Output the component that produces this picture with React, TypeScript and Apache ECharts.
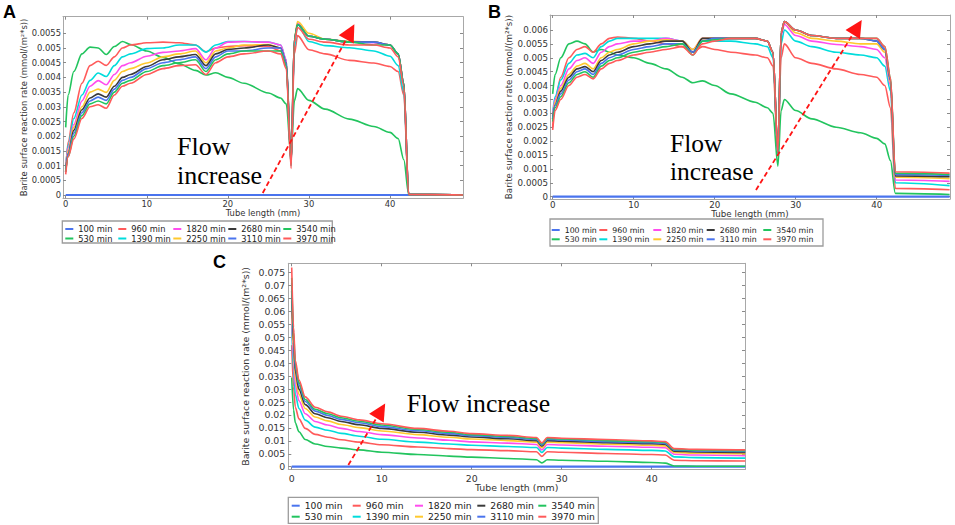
import React, { useEffect, useRef } from "react";
import * as echarts from "echarts";

// ---------- series names / colours ----------
const seriesNames = ["100 min", "530 min", "960 min", "1390 min", "1820 min", "2250 min", "2680 min", "3110 min", "3540 min", "3970 min"];
const seriesColors = ["#4a74ee", "#22c45e", "#ff5a5a", "#00dcdc", "#ff4dee", "#ffc92e", "#3a3a3a", "#4a74ee", "#22c45e", "#ff5a5a"];
const legendColumns = [
  ["100 min", "530 min"],
  ["960 min", "1390 min"],
  ["1820 min", "2250 min"],
  ["2680 min", "3110 min"],
  ["3540 min", "3970 min"],
];

// ---------- tick labels ----------
const xTickValues = [0, 10, 20, 30, 40];
const yTicksA = [0, 0.0005, 0.001, 0.0015, 0.002, 0.0025, 0.003, 0.0035, 0.004, 0.0045, 0.005, 0.0055];
const yTicksB = [0, 0.0005, 0.001, 0.0015, 0.002, 0.0025, 0.003, 0.0035, 0.004, 0.0045, 0.005, 0.0055, 0.006];
const yTicksC = [0, 0.005, 0.01, 0.015, 0.02, 0.025, 0.03, 0.035, 0.04, 0.045, 0.05, 0.055, 0.06, 0.065, 0.07, 0.075];

// ---------- panel A data (tube length mm / rate) ----------
const xA = [0, 0.3, 1, 2, 3, 4, 5, 6, 7, 8, 10, 12, 14, 16, 17.3, 18.5, 20, 22, 25, 26.5, 27.2, 27.8, 28.2, 28.6, 30, 32, 35, 38, 40, 41, 41.7, 42.3, 49];
const a100 = [0, 0, 0, 0, 0, 0, 0, 0, 0, 0, 0, 0, 0, 0, 0, 0, 0, 0, 0, 0, 0, 0, 0, 0, 0, 0, 0, 0, 0, 0, 0, 0, 0];
const a530 = [0.0023, 0.0034, 0.0042, 0.0048, 0.00503, 0.005, 0.00478, 0.00505, 0.00522, 0.00512, 0.0049, 0.00468, 0.00446, 0.00424, 0.00408, 0.00416, 0.004, 0.0038, 0.00347, 0.0033, 0.0031, 0.0013, 0.0032, 0.00362, 0.00322, 0.00292, 0.00258, 0.00233, 0.00213, 0.00192, 0.0012, 0.00002, 0];
const a960 = [0.0008, 0.0018, 0.0028, 0.0038, 0.0044, 0.00455, 0.00441, 0.0047, 0.005, 0.0051, 0.00518, 0.0052, 0.00518, 0.0051, 0.00487, 0.005, 0.00505, 0.00508, 0.00505, 0.0049, 0.0044, 0.0011, 0.0048, 0.00542, 0.00494, 0.0048, 0.00458, 0.00449, 0.00437, 0.0042, 0.0034, 0.00002, 0];
const a1390 = [0.0009, 0.0017, 0.0026, 0.0034, 0.0039, 0.00415, 0.00403, 0.0044, 0.0047, 0.0048, 0.00498, 0.005, 0.0051, 0.0051, 0.00486, 0.0051, 0.00522, 0.00522, 0.0052, 0.0051, 0.0046, 0.0011, 0.005, 0.0058, 0.00522, 0.00508, 0.00501, 0.0049, 0.00472, 0.0044, 0.0035, 0.00002, 0];
const a1820 = [0.0009, 0.0016, 0.0024, 0.0032, 0.0037, 0.00389, 0.00375, 0.0041, 0.0044, 0.0045, 0.00472, 0.00485, 0.0049, 0.00498, 0.0046, 0.005, 0.0052, 0.00522, 0.0052, 0.0051, 0.0046, 0.0011, 0.0052, 0.00585, 0.0054, 0.0053, 0.0052, 0.00518, 0.0051, 0.0048, 0.0038, 0.00002, 0];
const a2250 = [0.0008, 0.0015, 0.0023, 0.003, 0.0035, 0.0036, 0.00349, 0.0039, 0.0042, 0.0043, 0.00449, 0.0047, 0.0048, 0.0049, 0.0045, 0.0049, 0.005, 0.0051, 0.00512, 0.005, 0.0045, 0.0011, 0.0053, 0.0059, 0.0055, 0.0053, 0.00523, 0.0052, 0.0051, 0.0048, 0.0038, 0.00002, 0];
const a2680 = [0.0008, 0.0014, 0.0022, 0.0029, 0.0033, 0.00344, 0.00333, 0.0037, 0.004, 0.0041, 0.00437, 0.0046, 0.0047, 0.00478, 0.0044, 0.0048, 0.00495, 0.005, 0.0051, 0.005, 0.0045, 0.0011, 0.0053, 0.0058, 0.0054, 0.0053, 0.0052, 0.0052, 0.0051, 0.0048, 0.0038, 0.00002, 0];
const a3110 = [0.0008, 0.0014, 0.0021, 0.0028, 0.0032, 0.00333, 0.00322, 0.0036, 0.0039, 0.004, 0.0043, 0.0045, 0.0046, 0.0047, 0.0043, 0.0047, 0.0049, 0.0049, 0.005, 0.005, 0.0045, 0.001, 0.0053, 0.0058, 0.0054, 0.0053, 0.0052, 0.0052, 0.0051, 0.0048, 0.0038, 0.00002, 0];
const a3540 = [0.0008, 0.0013, 0.002, 0.0027, 0.0031, 0.0032, 0.0031, 0.0035, 0.0038, 0.0039, 0.0042, 0.0044, 0.0045, 0.0046, 0.0042, 0.0046, 0.0048, 0.0049, 0.0049, 0.0049, 0.0044, 0.001, 0.0053, 0.0058, 0.0054, 0.0053, 0.0052, 0.0051, 0.0051, 0.0048, 0.0038, 0.00002, 0];
const a3970 = [0.0007, 0.0013, 0.0019, 0.0026, 0.003, 0.00307, 0.00295, 0.0034, 0.0037, 0.0038, 0.0041, 0.0043, 0.0044, 0.00443, 0.0041, 0.0045, 0.0047, 0.0048, 0.0049, 0.0048, 0.0043, 0.0009, 0.0052, 0.0057, 0.0053, 0.0052, 0.0051, 0.0051, 0.005, 0.0047, 0.0037, 0.00002, 0];

// ---------- panel B data ----------
const xB = [0, 0.3, 1, 2, 3, 4, 5, 6, 7, 8, 10, 12, 14, 16, 17.3, 18.5, 20, 22, 25, 26.5, 27.2, 27.8, 28.2, 28.6, 30, 32, 35, 38, 40, 41, 41.7, 42.3, 49];
const b100 = [0, 0, 0, 0, 0, 0, 0, 0, 0, 0, 0, 0, 0, 0, 0, 0, 0, 0, 0, 0, 0, 0, 0, 0, 0, 0, 0, 0, 0, 0, 0, 0, 0];
const b530 = [0.0037, 0.0044, 0.005, 0.0055, 0.0056, 0.0055, 0.0052, 0.0053, 0.0052, 0.0051, 0.005, 0.0048, 0.0046, 0.0043, 0.0041, 0.00417, 0.004, 0.0037, 0.0034, 0.0032, 0.003, 0.0011, 0.0031, 0.0035, 0.0031, 0.0028, 0.0025, 0.0023, 0.0021, 0.0019, 0.0013, 0.00012, 0.00008];
const b960 = [0.0025, 0.0035, 0.0043, 0.005, 0.0053, 0.0054, 0.0052, 0.0055, 0.0057, 0.00575, 0.0057, 0.0056, 0.0055, 0.0054, 0.0052, 0.0054, 0.0053, 0.0052, 0.0051, 0.005, 0.0047, 0.0015, 0.005, 0.0055, 0.005, 0.0048, 0.0046, 0.0044, 0.0043, 0.004, 0.0032, 0.0003, 0.00025];
const b1390 = [0.003, 0.0036, 0.0042, 0.0048, 0.0051, 0.00516, 0.005, 0.0054, 0.0056, 0.0057, 0.0057, 0.0057, 0.0057, 0.0056, 0.0053, 0.0056, 0.0056, 0.0056, 0.0055, 0.0054, 0.005, 0.0015, 0.0055, 0.006, 0.0056, 0.0054, 0.0052, 0.0051, 0.005, 0.0047, 0.0038, 0.0005, 0.0004];
const b1820 = [0.0029, 0.0035, 0.004, 0.0046, 0.0049, 0.005, 0.0048, 0.0052, 0.0054, 0.0055, 0.0056, 0.0056, 0.0057, 0.0056, 0.0053, 0.0057, 0.0057, 0.0057, 0.0057, 0.0056, 0.0052, 0.0016, 0.0058, 0.0062, 0.0058, 0.0056, 0.00548, 0.0054, 0.0053, 0.005, 0.004, 0.0006, 0.00055];
const b2250 = [0.0028, 0.0034, 0.0039, 0.0044, 0.0047, 0.0048, 0.0046, 0.005, 0.0052, 0.0053, 0.0055, 0.0056, 0.00565, 0.0056, 0.0053, 0.0057, 0.0057, 0.0057, 0.0057, 0.0056, 0.0052, 0.0016, 0.0059, 0.0063, 0.0059, 0.0057, 0.0056, 0.0055, 0.0055, 0.0052, 0.0041, 0.0007, 0.00065];
const b2680 = [0.0028, 0.0033, 0.0038, 0.0043, 0.0046, 0.00468, 0.0045, 0.0049, 0.0051, 0.0052, 0.0054, 0.0055, 0.0056, 0.0056, 0.0052, 0.0057, 0.0057, 0.0057, 0.0057, 0.0056, 0.0052, 0.0016, 0.0059, 0.0063, 0.006, 0.0058, 0.0057, 0.0057, 0.0056, 0.0053, 0.0042, 0.00075, 0.00072];
const b3110 = [0.0028, 0.0033, 0.0037, 0.0042, 0.0045, 0.0046, 0.0044, 0.0048, 0.005, 0.0051, 0.0053, 0.0054, 0.0055, 0.0055, 0.0052, 0.0056, 0.0057, 0.0057, 0.0057, 0.0056, 0.0052, 0.0016, 0.0059, 0.0063, 0.006, 0.0058, 0.0057, 0.0057, 0.0056, 0.0053, 0.0042, 0.0008, 0.00077];
const b3540 = [0.0027, 0.0032, 0.0036, 0.0041, 0.0044, 0.0045, 0.0043, 0.0047, 0.0049, 0.005, 0.0052, 0.0053, 0.0054, 0.0055, 0.0051, 0.0056, 0.00565, 0.0057, 0.0057, 0.0056, 0.0052, 0.0016, 0.0059, 0.0063, 0.006, 0.0058, 0.0057, 0.0057, 0.0057, 0.0054, 0.0043, 0.00085, 0.0008];
const b3970 = [0.0024, 0.0031, 0.0035, 0.004, 0.0043, 0.0044, 0.00424, 0.0046, 0.0048, 0.0049, 0.0051, 0.0052, 0.0053, 0.0054, 0.0051, 0.0055, 0.0056, 0.0057, 0.0057, 0.0056, 0.0052, 0.0016, 0.0059, 0.0063, 0.006, 0.0058, 0.0057, 0.0057, 0.0057, 0.0054, 0.0043, 0.0009, 0.00085];

// ---------- panel C data ----------
const xC = [0, 0.2, 0.4, 0.8, 1.5, 2.6, 4, 5.5, 7.5, 10, 14, 17.5, 20, 24, 27.2, 27.8, 28.4, 30, 35, 40, 41.5, 42.5, 45, 50.4];
const c100 = [0, 0, 0, 0, 0, 0, 0, 0, 0, 0, 0, 0, 0, 0, 0, 0, 0, 0, 0, 0, 0, 0, 0, 0];
const c530 = [0.0345, 0.022, 0.017, 0.0135, 0.0105, 0.0088, 0.0078, 0.0072, 0.0065, 0.0056, 0.0047, 0.0041, 0.0037, 0.0032, 0.0027, 0.0015, 0.0027, 0.0025, 0.0021, 0.0016, 0.0014, 0.0003, 0.0002, 0.0002];
const c960 = [0.047, 0.031, 0.023, 0.0185, 0.0148, 0.0125, 0.0114, 0.0104, 0.0095, 0.0085, 0.0076, 0.007, 0.0066, 0.0062, 0.0058, 0.004, 0.0058, 0.0056, 0.0051, 0.0047, 0.0045, 0.0025, 0.0023, 0.0022];
const c1390 = [0.055, 0.037, 0.028, 0.0225, 0.018, 0.0153, 0.0141, 0.0129, 0.0118, 0.0106, 0.0095, 0.0088, 0.0083, 0.0078, 0.0074, 0.0055, 0.0074, 0.0072, 0.0067, 0.0063, 0.0061, 0.0038, 0.0035, 0.0033];
const c1820 = [0.06, 0.041, 0.0315, 0.0255, 0.0205, 0.0175, 0.0161, 0.0148, 0.0136, 0.0124, 0.0111, 0.0102, 0.0096, 0.0091, 0.0086, 0.0065, 0.0086, 0.0084, 0.0079, 0.0075, 0.0073, 0.0048, 0.0045, 0.0043];
const c2250 = [0.064, 0.045, 0.0345, 0.028, 0.0225, 0.0192, 0.0177, 0.0163, 0.0151, 0.0138, 0.0124, 0.0114, 0.0107, 0.0101, 0.0095, 0.0073, 0.0095, 0.0093, 0.0087, 0.0083, 0.008, 0.0055, 0.0052, 0.005];
const c2680 = [0.068, 0.048, 0.037, 0.03, 0.024, 0.0205, 0.0189, 0.0175, 0.0162, 0.0148, 0.0133, 0.0122, 0.0115, 0.0108, 0.0101, 0.0079, 0.0101, 0.0099, 0.0093, 0.0089, 0.0086, 0.006, 0.0057, 0.0055];
const c3110 = [0.071, 0.05, 0.0385, 0.0315, 0.0252, 0.0215, 0.0198, 0.0183, 0.017, 0.0155, 0.0139, 0.0128, 0.012, 0.0113, 0.0105, 0.0084, 0.0105, 0.0103, 0.0097, 0.0093, 0.009, 0.0064, 0.0061, 0.0059];
const c3540 = [0.073, 0.052, 0.04, 0.0325, 0.026, 0.0222, 0.0205, 0.0189, 0.0176, 0.0161, 0.0144, 0.0133, 0.0124, 0.0117, 0.0109, 0.0088, 0.0109, 0.0107, 0.0101, 0.0097, 0.0094, 0.0067, 0.0064, 0.0062];
const c3970 = [0.077, 0.054, 0.041, 0.0335, 0.027, 0.023, 0.0212, 0.0195, 0.0181, 0.0166, 0.0148, 0.0137, 0.0128, 0.0121, 0.0113, 0.0092, 0.0113, 0.011, 0.0105, 0.01, 0.0097, 0.007, 0.0067, 0.0065];

const SANS = "DejaVu Sans";
const SERIF = "Liberation Serif";
const yTitle = "Barite surface reaction rate (mmol/(m²*s))";
const xTitle = "Tube length (mm)";

const fmt = (v: number) => String(parseFloat(Number(v).toPrecision(6)));

type Panel = {
  xs: number[];
  ys: number[][];
  grid: { left: number; top: number; width: number; height: number };
  xMin: number; xMax: number; yMin: number; yMax: number;
  yTicks: number[];
  fs: number; legendFs: number;
  yNameGap: number; xNameGap: number; yLabelMargin: number; xLabelMargin: number;
  arrow: [number[], number[]];
  legendLefts: number[]; legendTop: number; legendGap: number; legendLine: number;
};

const panels: Panel[] = [
  {
    xs: xA, ys: [a100, a530, a960, a1390, a1820, a2250, a2680, a3110, a3540, a3970],
    grid: { left: 63, top: 16.7, width: 400, height: 181.6 },
    xMin: -0.333, xMax: 49.0, yMin: -0.000112, yMax: 0.006065,
    yTicks: yTicksA, fs: 8.4, legendFs: 8.3, yNameGap: 34, xNameGap: 7, yLabelMargin: 2, xLabelMargin: 2,
    arrow: [[24.3, 0.00007], [35.1, 0.00555]],
    legendLefts: [65.3, 118.3, 173.3, 228.3, 283.3], legendTop: 224.5, legendGap: 0.5, legendLine: 9,
  },
  {
    xs: xB, ys: [b100, b530, b960, b1390, b1820, b2250, b2680, b3110, b3540, b3970],
    grid: { left: 550, top: 15, width: 400, height: 184 },
    xMin: -0.33, xMax: 49.05, yMin: -0.000083, yMax: 0.00654,
    yTicks: yTicksB, fs: 8.7, legendFs: 7.8, yNameGap: 34, xNameGap: 8, yLabelMargin: 2, xLabelMargin: 1,
    arrow: [[25.1, 0.00024], [37.6, 0.0061]],
    legendLefts: [551.7, 599.3, 653.3, 706.7, 763.3], legendTop: 225.5, legendGap: 0.3, legendLine: 9,
  },
  {
    xs: xC, ys: [c100, c530, c960, c1390, c1820, c2250, c2680, c3110, c3540, c3970],
    grid: { left: 288.3, top: 263.3, width: 456.7, height: 206.2 },
    xMin: -0.38, xMax: 50.37, yMin: -0.00108, yMax: 0.07863,
    yTicks: yTicksC, fs: 9.4, legendFs: 9.2, yNameGap: 38, xNameGap: 11, yLabelMargin: 3, xLabelMargin: 4,
    arrow: [[6.29, 0.00066], [9.9, 0.0216]],
    legendLefts: [291.7, 352.7, 415, 477.3, 538.3], legendTop: 500.7, legendGap: 1, legendLine: 10,
  },
];

const legendBoxes = [
  { x: 62.3, y: 221, width: 270, height: 22 },
  { x: 550, y: 219, width: 273, height: 27 },
  { x: 288.3, y: 497.3, width: 310, height: 26 },
];

function buildOption() {
  const grids: any[] = [];
  const xAxes: any[] = [];
  const yAxes: any[] = [];
  const series: any[] = [];
  const legends: any[] = [];
  const axisLineStyle = { color: "#a8a8a8", width: 1 };
  const tickStyle = { color: "#8a8a8a", width: 1 };

  panels.forEach((p, pi) => {
    grids.push({ ...p.grid, containLabel: false, show: false });
    const labelStyle = { fontFamily: SANS, fontSize: p.fs, color: "#333" };
    xAxes.push({
      type: "value", gridIndex: pi, position: "bottom", min: p.xMin, max: p.xMax,
      axisLine: { show: true, onZero: false, lineStyle: axisLineStyle },
      axisTick: { show: true, inside: true, length: 3, customValues: xTickValues, lineStyle: tickStyle },
      axisLabel: { customValues: xTickValues, margin: p.xLabelMargin, ...labelStyle, formatter: fmt },
      splitLine: { show: false },
      name: xTitle, nameLocation: "middle", nameGap: p.xNameGap,
      nameTextStyle: { ...labelStyle },
    });
    xAxes.push({
      type: "value", gridIndex: pi, position: "top", min: p.xMin, max: p.xMax,
      axisLine: { show: true, onZero: false, lineStyle: axisLineStyle },
      axisTick: { show: true, inside: true, length: 3, customValues: xTickValues, lineStyle: tickStyle },
      axisLabel: { show: false },
      splitLine: { show: false },
    });
    yAxes.push({
      type: "value", gridIndex: pi, position: "left", min: p.yMin, max: p.yMax,
      axisLine: { show: true, onZero: false, lineStyle: axisLineStyle },
      axisTick: { show: true, inside: true, length: 3, customValues: p.yTicks, lineStyle: tickStyle },
      axisLabel: { customValues: p.yTicks, margin: p.yLabelMargin, ...labelStyle, formatter: fmt },
      splitLine: { show: false },
      name: yTitle, nameLocation: "middle", nameRotate: 90, nameGap: p.yNameGap,
      nameTextStyle: { ...labelStyle },
    });
    yAxes.push({
      type: "value", gridIndex: pi, position: "right", min: p.yMin, max: p.yMax,
      axisLine: { show: true, onZero: false, lineStyle: axisLineStyle },
      axisTick: { show: true, inside: true, length: 3, customValues: p.yTicks, lineStyle: tickStyle },
      axisLabel: { show: false },
      splitLine: { show: false },
    });

    p.ys.forEach((vals, si) => {
      const s: any = {
        type: "line",
        name: seriesNames[si],
        xAxisIndex: pi * 2,
        yAxisIndex: pi * 2,
        data: p.xs.map((x, k) => [x, vals[k]]),
        symbol: "none",
        showSymbol: false,
        smooth: 0.3,
        smoothMonotone: "x",
        silent: true,
        z: 2,
        lineStyle: { width: si === 0 ? 2.2 : 1.6, color: seriesColors[si] },
        itemStyle: { color: seriesColors[si] },
      };
      if (si === seriesNames.length - 1) {
        s.markLine = {
          silent: true,
          symbol: ["none", "triangle"],
          symbolSize: 17,
          label: { show: false },
          lineStyle: { color: "#ff1414", type: [5, 3], width: 1.8 },
          itemStyle: { color: "#ff1414" },
          emphasis: { disabled: true },
          data: [[{ coord: p.arrow[0] }, { coord: p.arrow[1] }]],
        };
      }
      series.push(s);
    });

    legendColumns.forEach((col, ci) => {
      legends.push({
        orient: "vertical",
        left: p.legendLefts[ci],
        top: p.legendTop,
        padding: 0,
        itemGap: p.legendGap,
        itemWidth: 8,
        itemHeight: 2,
        icon: "rect",
        selectedMode: false,
        data: col,
        textStyle: { fontFamily: SANS, fontSize: p.legendFs, color: "#222", lineHeight: p.legendLine },
      });
    });
  });

  const graphic: any[] = [
    { type: "text", x: 3, y: 11.5, style: { text: "A", fill: "#000", font: 'bold 18px "Liberation Sans"', align: "left", verticalAlign: "middle" } },
    { type: "text", x: 488, y: 11.5, style: { text: "B", fill: "#000", font: 'bold 18px "Liberation Sans"', align: "left", verticalAlign: "middle" } },
    { type: "text", x: 213, y: 262, style: { text: "C", fill: "#000", font: 'bold 18px "Liberation Sans"', align: "left", verticalAlign: "middle" } },
    { type: "text", x: 177, y: 146, style: { text: "Flow", fill: "#000", font: `26px "${SERIF}"`, align: "left", verticalAlign: "middle" } },
    { type: "text", x: 177, y: 175, style: { text: "increase", fill: "#000", font: `26px "${SERIF}"`, align: "left", verticalAlign: "middle" } },
    { type: "text", x: 670, y: 143.5, style: { text: "Flow", fill: "#000", font: `25.5px "${SERIF}"`, align: "left", verticalAlign: "middle" } },
    { type: "text", x: 670, y: 171, style: { text: "increase", fill: "#000", font: `25.5px "${SERIF}"`, align: "left", verticalAlign: "middle" } },
    { type: "text", x: 406.7, y: 403, style: { text: "Flow increase", fill: "#000", font: `25.7px "${SERIF}"`, align: "left", verticalAlign: "middle" } },
  ];
  legendBoxes.forEach((b) => {
    graphic.push({ type: "rect", shape: { ...b }, style: { fill: "none", stroke: "#9c9c9c", lineWidth: 1.3 }, z: 0 });
  });

  return {
    animation: false,
    backgroundColor: "#ffffff",
    grid: grids,
    xAxis: xAxes,
    yAxis: yAxes,
    legend: legends,
    series,
    graphic,
  };
}

export default function App() {
  const ref = useRef<HTMLDivElement | null>(null);
  useEffect(() => {
    if (!ref.current) return;
    const chart = echarts.init(ref.current, null, { renderer: "svg" });
    chart.setOption(buildOption() as any);
    return () => chart.dispose();
  }, []);
  return (
    <div
      ref={ref}
      style={{ position: "absolute", left: 0, top: 0, width: 955, height: 525, background: "#fff" }}
    />
  );
}
